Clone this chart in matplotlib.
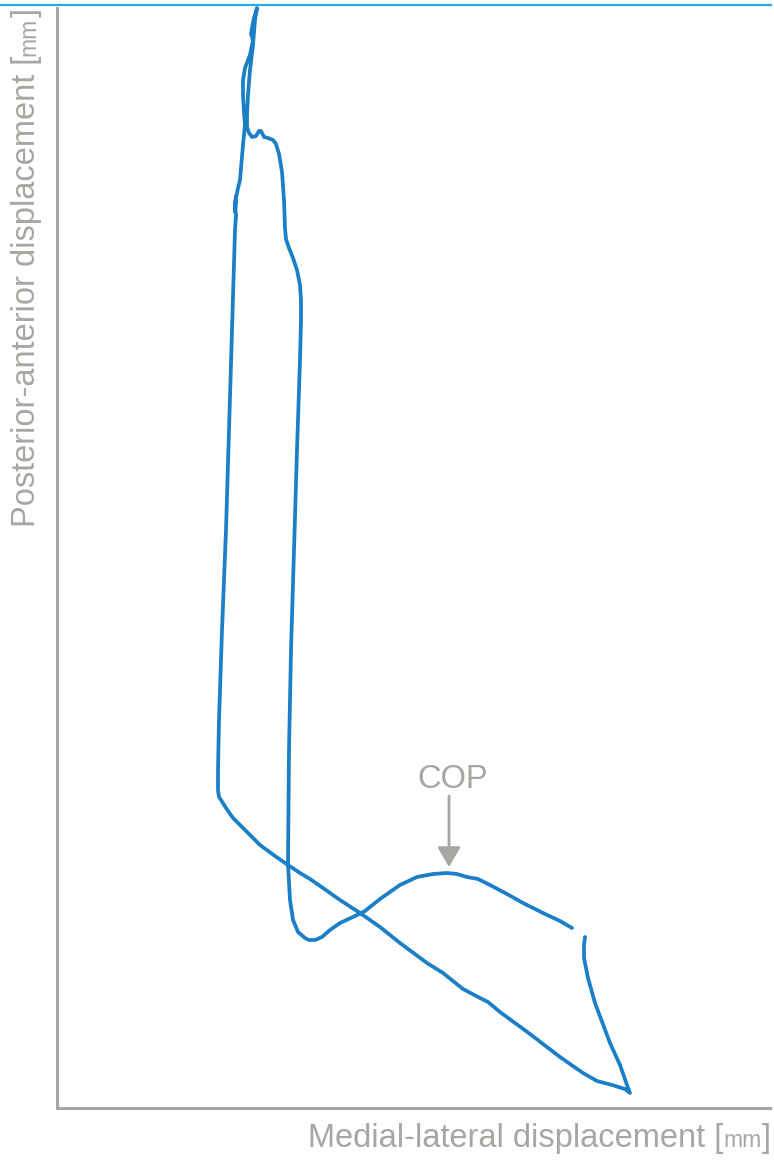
import matplotlib
matplotlib.use("Agg")
import matplotlib.pyplot as plt
from matplotlib.lines import Line2D

# centre of pressure trace, medial-lateral (x) / posterior-anterior (y), mm
cop_ml = [51.5, 50.3, 48.6, 46.6, 45.0, 43.3, 42.1, 41.0, 40.0, 39.0, 37.6, 36.0,
          34.3, 32.3, 30.8, 29.8, 28.3, 27.3, 26.5, 25.8, 25.2, 24.8, 24.1, 23.6, 23.3,
          23.1, 23.2, 23.4, 23.7, 24.0, 24.3, 24.4, 24.4, 24.3, 24.0, 23.6, 23.2, 22.9, 22.8, 22.7,
          22.5, 22.2, 21.9, 21.6, 21.1, 20.7, 20.4, 20.2, 19.9, 19.5, 19.2, 19.0, 19.0,
          19.1, 19.3, 19.6, 19.8, 20.0, 19.7, 19.5, 19.4, 19.6, 19.3, 18.8, 18.6,
          18.6, 18.7, 18.8, 18.6, 18.3, 18.1, 17.9, 17.8, 17.9, 17.8, 17.9, 17.8,
          17.5, 17.2, 16.9, 16.5, 16.2, 16.1, 16.1, 16.2, 16.4, 16.9, 17.6, 18.8, 20.3,
          21.8, 23.1, 24.3, 25.3, 26.6, 28.3, 30.3, 32.3, 34.3, 37.0, 38.6, 40.6,
          42.3, 43.1, 44.3, 47.3, 50.3, 52.6, 54.0, 55.5, 56.8, 57.3, 57.0, 56.3,
          55.3, 53.8, 53.1, 52.7, 52.7, 52.8]
cop_pa = [18.0, 18.7, 19.5, 20.5, 21.4, 22.3, 22.9, 23.1, 23.4, 23.5, 23.4, 23.1,
          22.3, 20.9, 19.7, 19.2, 18.5, 17.8, 17.1, 16.8, 16.8, 17.0, 17.6, 18.8, 20.8,
          24.3, 35.8, 45.8, 55.8, 65.8, 74.8, 78.8, 80.8, 82.3, 83.8, 85.0, 86.0, 86.9, 88.0, 90.8,
          93.6, 95.4, 96.4, 96.8, 97.0, 97.1, 97.7, 97.7, 97.2, 97.1, 97.5, 98.1, 99.3,
          101.3, 103.8, 106.3, 108.8, 110.0, 109.0, 108.0, 107.4, 106.8, 105.3, 104.0, 102.8,
          101.3, 99.6, 98.3, 96.3, 92.8, 92.0, 91.0, 89.6, 91.2, 90.3, 89.3, 87.8,
          77.8, 67.8, 57.8, 47.8, 38.8, 33.8, 31.8, 31.1, 30.8, 30.0, 29.0, 27.8, 26.3,
          25.2, 24.3, 23.5, 22.9, 22.0, 20.8, 19.5, 18.1, 16.5, 14.5, 13.5, 11.9,
          11.0, 10.6, 9.6, 7.4, 5.1, 3.5, 2.7, 2.3, 1.9, 1.5, 2.3, 4.3,
          6.5, 10.5, 13.0, 15.0, 16.3, 17.1]

cop_peak = (39.2, 23.6)
x_label = ["Medial-lateral displacement", " [", "mm", "]"]
y_label = ["Posterior-anterior displacement", " [", "mm", "]"]

blue = "#1a7fc6"
gray = "#a5a8a1"
big, small = 23.5, 16.5

plt.rcParams["font.family"] = ["Liberation Sans", "DejaVu Sans"]

fig = plt.figure(figsize=(7.74, 11.6), dpi=100)
ax = fig.add_axes([57 / 774, 52 / 1160, 713 / 774, 1100 / 1160])

ax.plot(cop_ml, cop_pa, color=blue, lw=2.7, solid_capstyle="round",
        solid_joinstyle="round", clip_on=False)

ax.set_xlim(0, 71.3)
ax.set_ylim(0, 110)
ax.set_xticks([])
ax.set_yticks([])
for side in ["top", "right"]:
    ax.spines[side].set_visible(False)
for side in ["left", "bottom"]:
    ax.spines[side].set_color(gray)
    ax.spines[side].set_linewidth(2.2)

# COP arrow + label
ax.annotate("", xy=(cop_peak[0], cop_peak[1] + 0.5), xytext=(cop_peak[0], cop_peak[1] + 7.6),
            arrowprops=dict(arrowstyle="-|>,head_length=0.6,head_width=0.35",
                            color=gray, lw=2, mutation_scale=20, shrinkA=0, shrinkB=0))
ax.text(cop_peak[0] + 0.4, cop_peak[1] + 9.2, "COP", color=gray, fontsize=big,
        ha="center", va="center")


def chain(first, parts, rotated):
    prev = first
    prev_size = big
    for p in parts:
        fs = small if p == "mm" else big
        shift = (prev_size - fs) * 0.21
        if rotated:
            prev = ax.annotate(p, xy=(1, 1), xycoords=prev, xytext=(-shift, 0),
                               textcoords="offset points", rotation=90,
                               ha="right", va="bottom", color=gray, fontsize=fs)
        else:
            prev = ax.annotate(p, xy=(1, 0), xycoords=prev, xytext=(0, shift),
                               textcoords="offset points",
                               ha="left", va="bottom", color=gray, fontsize=fs)
        prev_size = fs


xt = fig.text(308 / 774, 6 / 1160, x_label[0], color=gray, fontsize=big,
              ha="left", va="bottom")
chain(xt, x_label[1:], False)

yt = fig.text(11 / 774, (1160 - 527) / 1160, y_label[0], color=gray, fontsize=big,
              ha="left", va="bottom", rotation=90)
chain(yt, y_label[1:], True)

# thin blue rule across the top
fig.add_artist(Line2D([0, 0.996], [0.9957, 0.9957], transform=fig.transFigure,
                      color="#27a9e2", lw=1.6))

fig.savefig("out.png", dpi=100)
